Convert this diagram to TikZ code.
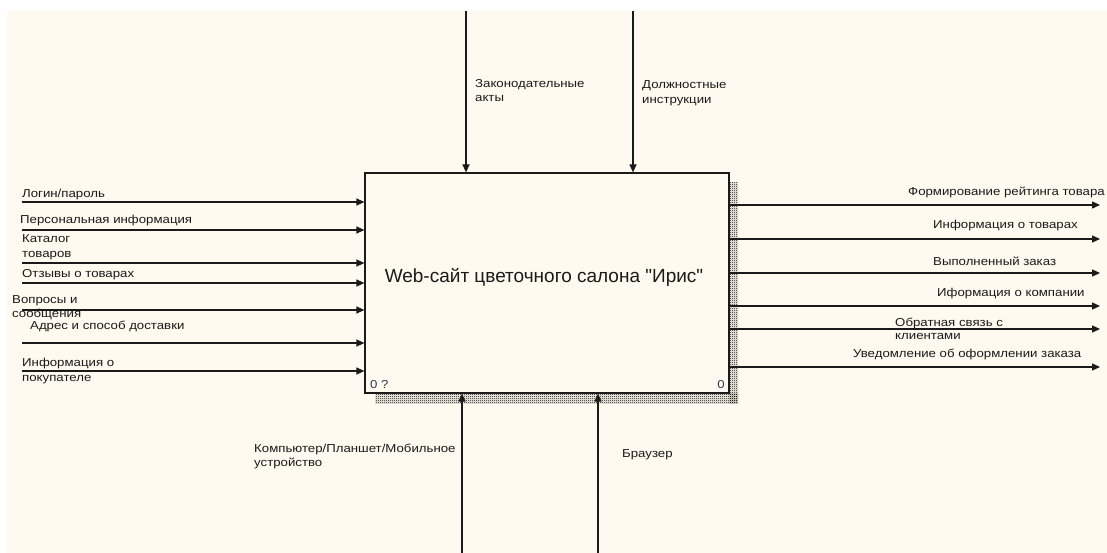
\documentclass[tikz,border=0pt]{standalone}
\usepackage{fontspec}
\setmainfont{Liberation Sans}
\newfontfamily\lblfont{Liberation Sans}[FakeStretch=1.15]
\usetikzlibrary{arrows.meta,patterns}
\definecolor{cream}{HTML}{FFFAEF}
\definecolor{ink}{HTML}{1A1A1A}
\definecolor{numc}{HTML}{2A3A55}
\newcommand\plainquote{\XeTeXglyph\XeTeXcharglyph"22\relax}
\pgfdeclarepatternformonly{checkerfine}{\pgfpoint{0pt}{0pt}}{\pgfpoint{2pt}{2pt}}{\pgfpoint{2pt}{2pt}}{%
  \pgfpathrectangle{\pgfpoint{0pt}{0pt}}{\pgfpoint{1pt}{1pt}}%
  \pgfpathrectangle{\pgfpoint{1pt}{1pt}}{\pgfpoint{1pt}{1pt}}%
  \pgfusepath{fill}}
\tikzset{
  flow/.style={draw=ink, line width=1.2pt, -{Triangle[length=8pt,width=7pt]}},
  lbl/.style={anchor=base west, inner sep=0pt, font=\lblfont\fontsize{11.5}{13}\selectfont, text=ink},
  ttl/.style={anchor=base, inner sep=0pt, font=\fontsize{19}{22}\selectfont, text=ink},
  num/.style={inner sep=0pt, font=\lblfont\fontsize{11.5}{13}\selectfont, text=numc},
  funcbox/.style={draw=ink, line width=1.2pt, fill=cream, minimum width=364pt, minimum height=220pt, inner sep=0pt},
  shade/.style={pattern=checkerfine, pattern color=black, draw=none}
}
\begin{document}
\begin{tikzpicture}[x=1pt,y=-1pt]
\useasboundingbox (0,0) rectangle (1107,553);
\fill[white] (0,0) rectangle (1107,553);
\fill[cream] (7,11) rectangle (1107,553);
% shadow
\fill[shade] (729,183) rectangle (738,403);
\fill[shade] (375,393) rectangle (738,403);
% box
\node[funcbox] (box) at (547,283) {};
\node[ttl] (title) at (544,282) {Web-сайт цветочного салона \plainquote Ирис\plainquote};
\node[num, anchor=base west] (n1) at (370,388) {0 ?};
\node[num, anchor=base east] (n2) at (725,388) {0};
% inputs
\coordinate (i1) at (22,202);
\coordinate (i2) at (22,230);
\coordinate (i3) at (22,263);
\coordinate (i4) at (22,283);
\coordinate (i5) at (22,310);
\coordinate (i6) at (22,343);
\coordinate (i7) at (22,371);
\foreach \c in {i1,i2,i3,i4,i5,i6,i7} \draw[flow] (\c) -- (\c -| box.west);
\node[lbl] (l1) at (22,198) {Логин/пароль};
\node[lbl] (l2) at (20,224) {Персональная информация};
\node[lbl] (l3a) at (22,243) {Каталог};
\node[lbl] (l3b) at (22,258) {товаров};
\node[lbl] (l4) at (22,277) {Отзывы о товарах};
\node[lbl] (l5a) at (12,303) {Вопросы и};
\node[lbl] (l5b) at (12,317) {сообщения};
\node[lbl] (l6) at (30,329) {Адрес и способ доставки};
\node[lbl] (l7a) at (22,366) {Информация о};
\node[lbl] (l7b) at (22,381) {покупателе};
% outputs
\coordinate (o1) at (1100,205);
\coordinate (o2) at (1100,239);
\coordinate (o3) at (1100,273);
\coordinate (o4) at (1100,306);
\coordinate (o5) at (1100,329);
\coordinate (o6) at (1100,367);
\foreach \c in {o1,o2,o3,o4,o5,o6} \draw[flow] (\c -| box.east) -- (\c);
\node[lbl] (r1) at (908,196) {Формирование рейтинга товара};
\node[lbl] (r2) at (933,229) {Информация о товарах};
\node[lbl] (r3) at (933,265) {Выполненный заказ};
\node[lbl] (r4) at (937,296) {Иформация о компании};
\node[lbl] (r5a) at (895,326) {Обратная связь с};
\node[lbl] (r5b) at (895,339) {клиентами};
\node[lbl] (r6) at (853,357) {Уведомление об оформлении заказа};
% controls
\coordinate (c1) at (466,11);
\coordinate (c2) at (633,11);
\draw[flow] (c1) -- (c1 |- box.north);
\draw[flow] (c2) -- (c2 |- box.north);
\node[lbl] (t1a) at (475,88) {Законодательные};
\node[lbl] (t1b) at (475,102) {акты};
\node[lbl] (t2a) at (642,89) {Должностные};
\node[lbl] (t2b) at (642,104) {инструкции};
% mechanisms
\coordinate (m1) at (462,553);
\coordinate (m2) at (598,553);
\draw[flow] (m1) -- (m1 |- box.south);
\draw[flow] (m2) -- (m2 |- box.south);
\node[lbl] (b1a) at (254,452) {Компьютер/Планшет/Мобильное};
\node[lbl] (b1b) at (254,466) {устройство};
\node[lbl] (b2) at (622,457) {Браузер};
\end{tikzpicture}
\end{document}
